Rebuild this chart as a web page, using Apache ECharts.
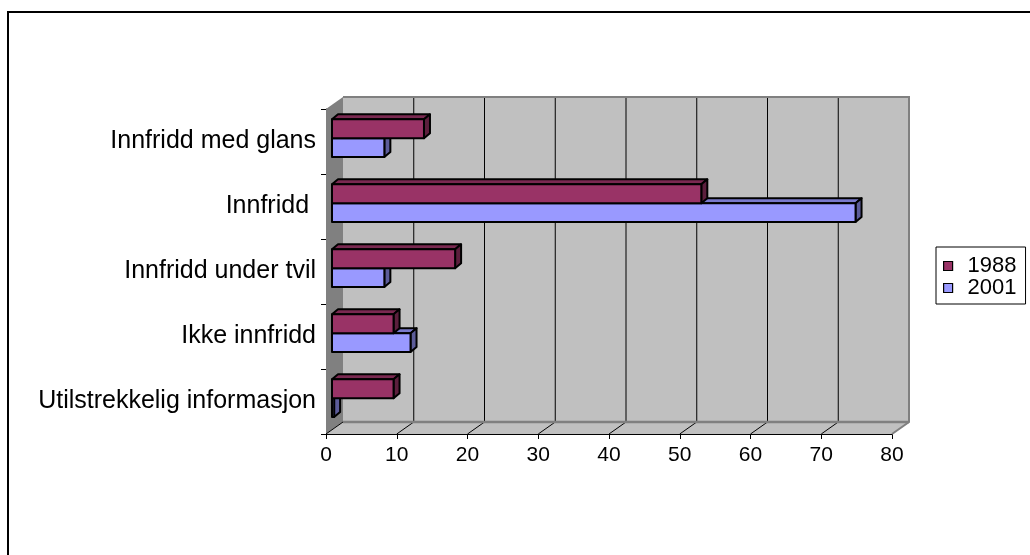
<!DOCTYPE html>
<html>
<head>
<meta charset="utf-8">
<script src="https://cdn.jsdelivr.net/npm/echarts@6/dist/echarts.min.js"></script>
<style>
  html, body { margin: 0; padding: 0; background: #ffffff; }
  #chart { width: 1030px; height: 555px; }
</style>
</head>
<body>
<div id="chart"></div>
<script>
// Categories, top to bottom
const categories = [
  'Innfridd med glans',
  'Innfridd ',
  'Innfridd under tvil',
  'Ikke innfridd',
  'Utilstrekkelig informasjon'
];
const seriesNames = ['1988', '2001'];
const values1988 = [13.0, 52.2, 17.4, 8.7, 8.7];
const values2001 = [7.4, 74.0, 7.4, 11.1, 0.3];
const xTickValues = [0, 10, 20, 30, 40, 50, 60, 70, 80];

const FONT = "'Liberation Sans', Arial, sans-serif";

// Oblique depth of the plot box (front plane -> back wall)
const DEPTH_DX = 17, DEPTH_DY = -12;
// Depth of each bar
const BAR_DX = 6, BAR_DY = -5;
// Bar plane sits a little behind the front plane
const PLANE_DX = 6, PLANE_DY = -3.3;

const colors = {
  '1988': { front: '#993366', top: '#7a2951', side: '#5c1f3d' },
  '2001': { front: '#9999ff', top: '#7a7acc', side: '#5c5c99' }
};

const FRONT = { left: 326, top: 109, width: 566, height: 325 };

// Back wall, side wall and floor of the 3D box
function renderBox(params, api) {
  const cs = params.coordSys;
  const x0 = cs.x, y0 = cs.y, x1 = cs.x + cs.width, y1 = cs.y + cs.height;
  const children = [];
  children.push({ type: 'rect',
    shape: { x: x0 + DEPTH_DX, y: y0 + DEPTH_DY, width: cs.width, height: cs.height },
    style: { fill: '#c0c0c0', stroke: null } });
  children.push({ type: 'polygon',
    shape: { points: [[x0, y0], [x0 + DEPTH_DX, y0 + DEPTH_DY], [x0 + DEPTH_DX, y1 + DEPTH_DY], [x0, y1]] },
    style: { fill: '#808080', stroke: null } });
  children.push({ type: 'polygon',
    shape: { points: [[x0, y1], [x0 + DEPTH_DX, y1 + DEPTH_DY], [x1 + DEPTH_DX, y1 + DEPTH_DY], [x1, y1]] },
    style: { fill: '#c0c0c0', stroke: null } });
  xTickValues.forEach(function (v) {
    const xp = api.coord([v, 0])[0];
    if (v > xTickValues[0] && v < xTickValues[xTickValues.length - 1]) {
      children.push({ type: 'line',
        shape: { x1: xp + DEPTH_DX, y1: y0 + DEPTH_DY, x2: xp + DEPTH_DX, y2: y1 + DEPTH_DY },
        style: { stroke: '#000', lineWidth: 1 } });
    }
    if (v < xTickValues[xTickValues.length - 1]) {
      children.push({ type: 'line',
        shape: { x1: xp, y1: y1, x2: xp + DEPTH_DX, y2: y1 + DEPTH_DY },
        style: { stroke: '#000', lineWidth: 1 } });
    }
  });
  children.push({ type: 'polyline',
    shape: { points: [[x0 + DEPTH_DX, y0 + DEPTH_DY], [x1 + DEPTH_DX, y0 + DEPTH_DY], [x1 + DEPTH_DX, y1 + DEPTH_DY], [x1, y1]] },
    style: { stroke: '#808080', lineWidth: 2, fill: null } });
  children.push({ type: 'line',
    shape: { x1: x0 + DEPTH_DX, y1: y1 + DEPTH_DY, x2: x1 + DEPTH_DX, y2: y1 + DEPTH_DY },
    style: { stroke: '#808080', lineWidth: 2.5 } });
  return { type: 'group', children: children };
}

// One 3D bar: front face, top face and right side
function makeBarRenderer(name, slot) {
  const c = colors[name];
  return function (params, api) {
    const val = api.value(0), cat = api.value(1);
    const start = api.coord([0, cat]);
    const end = api.coord([val, cat]);
    const band = api.size([0, 1])[1];
    const h = band * 0.29;
    const yt = start[1] + (slot === 0 ? -h : 0);
    const yb = yt + h;
    const xa = start[0], xb = end[0];
    const line = { stroke: '#000', lineWidth: 2, lineJoin: 'round' };
    return { type: 'group', children: [
      { type: 'polygon',
        shape: { points: [[xa, yt], [xb, yt], [xb + BAR_DX, yt + BAR_DY], [xa + BAR_DX, yt + BAR_DY]] },
        style: Object.assign({ fill: c.top }, line) },
      { type: 'polygon',
        shape: { points: [[xb, yt], [xb + BAR_DX, yt + BAR_DY], [xb + BAR_DX, yb + BAR_DY], [xb, yb]] },
        style: Object.assign({ fill: c.side }, line) },
      { type: 'rect',
        shape: { x: xa, y: yt, width: xb - xa, height: h },
        style: Object.assign({ fill: c.front }, line) }
    ] };
  };
}

const chart = echarts.init(document.getElementById('chart'), null, { renderer: 'canvas' });

const option = {
  animation: false,
  backgroundColor: '#ffffff',
  textStyle: { fontFamily: FONT },
  graphic: [{
    type: 'rect', z: 0, silent: true,
    shape: { x: 8, y: 12, width: 1100, height: 600 },
    style: { fill: null, stroke: '#000', lineWidth: 2 }
  }],
  legend: {
    orient: 'vertical',
    left: 936, top: 247,
    padding: [8, 9, 5, 7],
    borderColor: '#000', borderWidth: 1,
    itemWidth: 9, itemHeight: 9, itemGap: 0,
    icon: 'rect',
    itemStyle: { borderColor: '#000', borderWidth: 1.2 },
    textStyle: { fontFamily: FONT, fontSize: 22, color: '#000', lineHeight: 19, padding: [0, 0, 0, 10] },
    data: seriesNames
  },
  grid: [
    Object.assign({ show: false }, FRONT),
    { left: FRONT.left + PLANE_DX, top: FRONT.top + PLANE_DY, width: FRONT.width, height: FRONT.height, show: false }
  ],
  xAxis: [
    { gridIndex: 0, type: 'value', min: 0, max: 80, interval: 10,
      axisLine: { show: true, lineStyle: { color: '#000', width: 1 } },
      axisTick: { show: true, length: 5, lineStyle: { color: '#000' } },
      axisLabel: { fontSize: 21, color: '#000', margin: 11, fontFamily: FONT },
      splitLine: { show: false } },
    { gridIndex: 1, type: 'value', min: 0, max: 80, interval: 10, show: false, splitLine: { show: false } }
  ],
  yAxis: [
    { gridIndex: 0, type: 'category', data: categories, inverse: true,
      axisLine: { show: true, lineStyle: { color: '#000', width: 1 } },
      axisTick: { show: true, length: 5, lineStyle: { color: '#000' } },
      axisLabel: { fontSize: 25, color: '#000', margin: 10, fontFamily: FONT },
      splitLine: { show: false } },
    { gridIndex: 1, type: 'category', data: categories, inverse: true, show: false }
  ],
  series: [
    { type: 'custom', name: 'box', xAxisIndex: 0, yAxisIndex: 0, z: 1, silent: true,
      renderItem: renderBox, data: [[0, 0]] },
    { type: 'custom', name: seriesNames[1], xAxisIndex: 1, yAxisIndex: 1, z: 2,
      itemStyle: { color: colors['2001'].front },
      renderItem: makeBarRenderer('2001', 1),
      data: values2001.map(function (v, i) { return [v, i]; }) },
    { type: 'custom', name: seriesNames[0], xAxisIndex: 1, yAxisIndex: 1, z: 3,
      itemStyle: { color: colors['1988'].front },
      renderItem: makeBarRenderer('1988', 0),
      data: values1988.map(function (v, i) { return [v, i]; }) }
  ]
};

chart.setOption(option);
</script>
</body>
</html>
